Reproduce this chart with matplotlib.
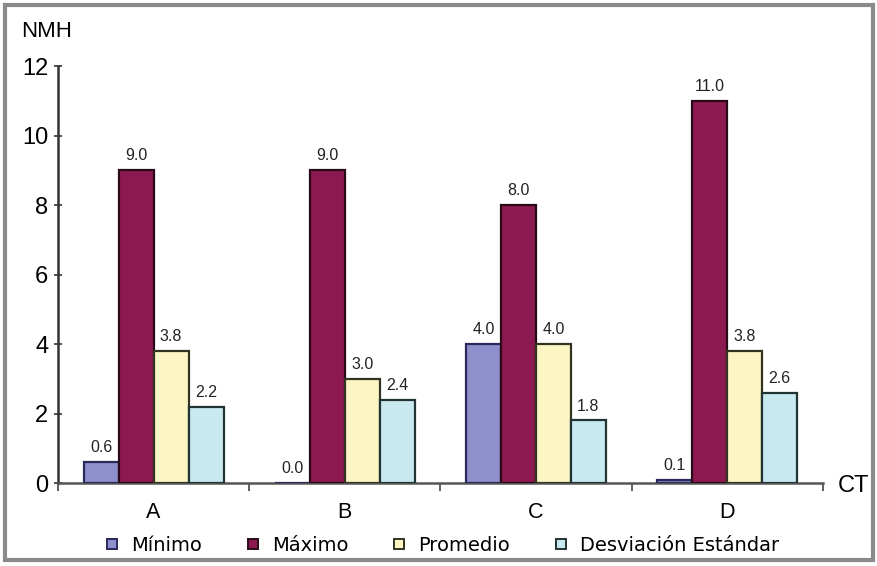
import matplotlib
matplotlib.use("Agg")
import matplotlib.pyplot as plt
from matplotlib.patches import Rectangle
from matplotlib.lines import Line2D
import numpy as np

plt.rcParams['font.family'] = ['Liberation Sans', 'DejaVu Sans']

# NMH por CT
grupos = ["A", "B", "C", "D"]
series = ["Mínimo", "Máximo", "Promedio", "Desviación Estándar"]
minimo = [0.6, 0.0, 4.0, 0.1]
maximo = [9.0, 9.0, 8.0, 11.0]
promedio = [3.8, 3.0, 4.0, 3.8]
desviacion = [2.2, 2.4, 1.8, 2.6]

colores = ["#8f8fcb", "#8c1a50", "#fbf6c4", "#c9e9f1"]
bordes = ["#2a2a5a", "#2a0a18", "#333322", "#223333"]

fig = plt.figure(figsize=(8.78, 5.66), dpi=100)
ax = fig.add_axes([0.066, 0.1466, 0.871, 0.7367])

x = np.arange(len(grupos))
ancho = 0.183
valores = [minimo, maximo, promedio, desviacion]
for i, vals in enumerate(valores):
    pos = x + (i - 1.5) * ancho
    ax.bar(pos, vals, ancho, color=colores[i], edgecolor=bordes[i],
           linewidth=1.6, zorder=3)
    for xp, v in zip(pos, vals):
        ax.text(xp, v + 0.2, f"{v:.1f}", ha="center", va="bottom",
                fontsize=11.5, color="#222222")

ax.set_xlim(-0.5, 3.5)
ax.set_ylim(0, 12)
ax.set_yticks(range(0, 13, 2))
ax.tick_params(axis="y", labelsize=17, direction="inout", length=6,
               width=1.2, color="#333333", pad=4)
ax.set_xticks(x)
ax.set_xticklabels(grupos, fontsize=15.5)
ax.tick_params(axis="x", length=0, pad=14)
ax.set_xticks([-0.5, 0.5, 1.5, 2.5, 3.5], minor=True)
ax.tick_params(axis="x", which="minor", direction="out", length=6,
               width=1.2, color="#444444")

for s in ["top", "right"]:
    ax.spines[s].set_visible(False)
ax.spines["left"].set_color("#333333")
ax.spines["left"].set_linewidth(1.8)
ax.spines["bottom"].set_color("#555555")
ax.spines["bottom"].set_linewidth(1.8)

fig.text(0.024, 0.945, "NMH", fontsize=16, ha="left", va="center")
fig.text(0.954, 0.142, "CT", fontsize=17, ha="left", va="center")

handles = [Line2D([], [], marker="s", linestyle="none", markersize=6.5,
                  markerfacecolor=colores[i], markeredgecolor=bordes[i],
                  markeredgewidth=1.4) for i in range(4)]
fig.legend(handles, series, loc="center", bbox_to_anchor=(0.502, 0.037),
           ncol=4, frameon=False, handletextpad=0.5,
           columnspacing=2.1, handlelength=1.0,
           prop={"family": "DejaVu Sans", "size": 14})

fig.add_artist(Rectangle((0.006, 0.01), 0.988, 0.982, transform=fig.transFigure,
                         fill=False, edgecolor="#8a8a8a", linewidth=3))

fig.savefig("out.png", dpi=100)
